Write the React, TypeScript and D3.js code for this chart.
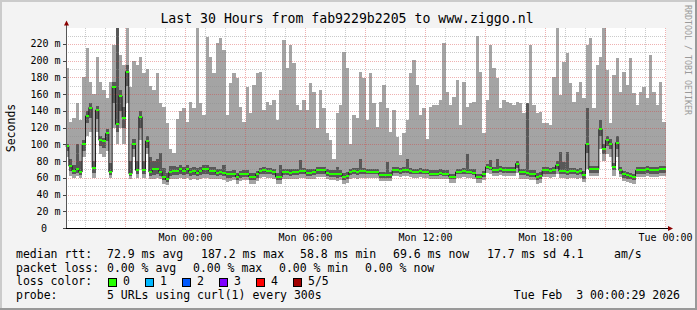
import React from 'react';
import * as d3 from 'd3';

// ---- data (10-minute steps, last 30 hours, values in ms) ----
const maxPing = [191,127,131,150,129,180,215,175,160,205,175,165,155,175,219,239,207,195,239,168,200,195,205,185,190,170,165,185,150,145,125,95,90,130,140,143,127,151,143,239,150,135,228,205,185,
221,227,213,135,173,185,179,145,127,169,137,171,185,187,141,151,147,153,129,165,225,191,219,197,147,141,153,141,173,163,119,165,143,113,105,83,137,147,211,191,101,135,131,187,179,
129,185,149,121,151,171,143,115,141,109,87,113,129,185,201,171,135,143,107,145,147,147,153,221,163,147,157,177,123,175,145,149,151,229,187,113,153,219,191,179,143,153,151,149,147,
151,149,137,149,219,147,137,139,125,125,123,181,239,159,199,209,173,151,163,175,155,219,227,143,195,205,239,189,125,183,203,163,187,171,203,161,147,163,169,155,207,163,147,175,127];
const upperPing = [101,83,75,101,80,105,140,150,80,146,110,108,118,78,175,239,165,145,195,80,106,80,140,80,110,85,80,82,90,72,66,74,74,73,75,73,75,72,73,72,73,75,75,73,73,
70,71,75,68,68,69,66,68,69,69,66,66,68,72,73,72,72,71,66,75,71,71,70,71,71,81,72,70,70,71,73,73,73,70,69,69,73,69,66,67,71,72,72,83,72,
71,71,71,71,67,67,79,67,73,73,72,73,83,72,71,71,72,71,71,69,69,69,70,69,69,65,65,71,71,72,89,71,70,65,65,68,77,81,73,83,74,73,73,73,73,
80,71,71,149,69,69,66,67,73,73,72,73,80,91,79,91,72,72,71,72,68,143,74,74,74,129,100,110,106,78,110,73,68,67,66,65,73,73,73,74,73,73,73,74,74];
const medianRtt = [98,74,68,70,67,100,134,144,72,141,105,104,113,67,169,124,158,132,187,65,101,69,133,69,104,67,70,70,67,61,58,67,68,68,70,68,70,67,68,66,68,70,70,68,68,
66,67,66,64,64,65,61,64,65,65,61,61,64,68,69,68,68,67,61,61,67,67,66,67,67,68,68,66,66,67,69,69,69,66,65,65,64,65,61,62,67,68,67,68,68,
67,67,67,67,63,63,63,63,69,69,68,69,69,68,67,67,68,67,67,65,65,65,66,65,65,61,61,67,67,68,67,67,66,61,61,64,73,72,69,69,70,69,69,69,69,
77,67,67,66,65,65,61,62,69,69,68,69,75,68,68,67,68,68,67,68,63,100,70,70,70,118,95,105,101,73,102,69,64,63,62,61,69,69,69,70,69,69,69,70,70];
const lowerPing = [92,68,64,66,63,92,125,132,66,130,98,96,104,63,150,115,140,120,170,62,94,64,120,64,96,62,63,64,62,57,55,62,63,63,64,63,64,62,63,62,63,64,64,63,63,
62,63,62,60,60,61,57,60,61,61,57,57,60,64,65,64,64,63,57,57,63,63,62,63,63,64,64,62,62,63,65,65,65,62,61,61,60,61,57,58,63,64,63,64,64,
64,64,64,64,60,60,60,60,66,66,65,66,66,65,64,64,65,64,64,62,62,62,63,62,62,58,58,64,64,65,64,64,63,58,58,61,70,69,66,66,67,66,66,66,66,
72,63,63,62,61,61,57,58,65,65,64,65,70,64,64,63,64,64,63,64,59,90,66,66,66,110,88,98,94,69,95,65,60,59,58,57,65,65,65,66,65,65,65,66,66];
const minPing = [85,62,60,62,60,85,110,115,60,115,88,85,92,60,120,100,120,100,150,58,85,60,105,60,88,58,58,60,58,53,52,58,58,58,60,58,60,57,58,57,58,60,60,58,58,
58,59,57,55,56,57,53,56,57,57,53,53,56,60,61,60,60,59,53,53,59,59,58,59,59,60,60,58,58,59,61,61,61,58,57,57,56,57,53,54,59,60,59,60,60,
60,60,60,60,56,56,56,56,62,62,61,62,62,61,60,60,61,60,60,58,58,58,59,58,58,54,54,60,60,61,60,60,59,54,54,57,66,65,62,62,63,62,62,62,62,
66,58,58,58,57,57,53,54,61,61,60,61,64,60,60,59,60,60,59,60,55,70,62,62,62,95,80,88,85,62,85,61,56,55,54,53,61,61,61,62,61,61,61,62,62];

const yTickValues = [0,20,40,60,80,100,120,140,160,180,200,220];
const xTickHours = [-24,-18,-12,-6,0];
const xTickLabels = ['Mon 00:00','Mon 06:00','Mon 12:00','Mon 18:00','Tue 00:00'];
const lossLabels = ['0','1','2','3','4','5/5'];
const lossColors = ['#26ff00','#00b8ff','#0059ff','#7e00ff','#ff0000','#a10000'];
const rttStats = ['72.9 ms avg','187.2 ms max','58.8 ms min','69.6 ms now','17.7 ms sd','4.1','am/s'];
const lossStats = ['0.00 % avg','0.00 % max','0.00 % min','0.00 % now'];

const W = 697, H = 310;
const STEP = 10; // minutes
const TOTAL = 30 * 60;

export default function App() {
  const x = d3.scaleLinear().domain([-TOTAL, 0]).range([65.5, 665.5]);
  const y = d3.scaleLinear().domain([0, 239.13]).range([228, 28]);

  const rows = medianRtt.map((m, i) => ({
    t: -TOTAL + i * STEP, p1: minPing[i], p2: lowerPing[i], m, p4: upperPing[i], p5: maxPing[i],
  }));
  const last = rows[rows.length - 1];
  const pts = [...rows, { ...last, t: 0 }];

  const area = (lo: (d: any) => number, hi: (d: any) => number) =>
    d3.area<any>().x(d => x(d.t)).y0(d => y(lo(d))).y1(d => y(hi(d))).curve(d3.curveStepAfter)(pts) || '';
  const lightSmoke = area(d => d.p1, d => d.p5);
  const darkSmoke = area(d => d.p2, d => d.p4);
  const sw = 1.2;
  const greenBand = area(d => d.m - sw, d => d.m + sw);
  const medLine = d3.line<any>().x(d => x(d.t)).y(d => y(d.m)).curve(d3.curveStepAfter)(pts) || '';

  const mono = 'DejaVu Sans Mono, monospace';
  const minorH = d3.range(10, 240, 10).filter(v => v % 20 !== 0);
  const majorH = d3.range(20, 240, 20);
  const hours = d3.range(-29, 1);

  const legendX = 107;
  const statX = [107, 201, 300, 393, 487, 563, 614];
  const lossX = [107, 193, 279, 365];
  const boxX = [108, 145, 182, 219, 256, 293];

  return (
    <svg width={W} height={H} style={{ position: 'absolute', left: 0, top: 0 }} fontFamily={mono}>
      <rect x={0} y={0} width={W} height={H} fill="#f3f3f3" />
      <rect x={0} y={0} width={W} height={2} fill="#cbcbcb" />
      <rect x={0} y={0} width={2} height={H} fill="#cbcbcb" />
      <rect x={W - 2} y={0} width={2} height={H} fill="#999999" />
      <rect x={0} y={H - 2} width={W} height={2} fill="#999999" />
      <rect x={66} y={28} width={600} height={200} fill="#ffffff" />

      <path d={lightSmoke} fill="#a4a4a4" shapeRendering="crispEdges" />
      <path d={darkSmoke} fill="#585858" shapeRendering="crispEdges" />

      {/* grid */}
      {minorH.map(v => (
        <line key={'mh' + v} x1={66} x2={666} y1={Math.round(y(v)) + 0.5} y2={Math.round(y(v)) + 0.5}
          stroke="rgba(140,140,140,0.45)" strokeDasharray="1,1" />
      ))}
      {hours.filter(h => h % 3 !== 0).map(h => (
        <line key={'mv' + h} x1={x(h * 60)} x2={x(h * 60)} y1={28} y2={228}
          stroke="rgba(140,140,140,0.45)" strokeDasharray="1,1" />
      ))}
      {majorH.map(v => (
        <line key={'Mh' + v} x1={66} x2={666} y1={Math.round(y(v)) + 0.5} y2={Math.round(y(v)) + 0.5}
          stroke="rgba(215,60,60,0.4)" strokeDasharray="1,1" />
      ))}
      {hours.filter(h => h % 3 === 0 && h > -30).map(h => (
        <line key={'Mv' + h} x1={x(h * 60)} x2={x(h * 60)} y1={28} y2={228}
          stroke="rgba(215,60,60,0.4)" strokeDasharray="1,1" />
      ))}

      <path d={medLine} fill="none" stroke="#202020" strokeWidth={1} />
      <path d={greenBand} fill="#26ff00" shapeRendering="crispEdges" />

      {/* axes */}
      <line x1={66.5} x2={66.5} y1={24} y2={229} stroke="#555" />
      <line x1={63} x2={669} y1={228.5} y2={228.5} stroke="#000" />
      <path d="M64,25.5 L66.5,20.5 L69,25.5 Z" fill="#8b0000" />
      <path d="M668,226 L673,228.5 L668,231 Z" fill="#8b0000" />
      {yTickValues.map(v => (
        <line key={'yt' + v} x1={63} x2={66} y1={Math.round(y(v)) + 0.5} y2={Math.round(y(v)) + 0.5} stroke="#444" />
      ))}

      {yTickValues.map(v => (
        <text key={'yl' + v} x={v === 0 ? 47 : 60.5} y={y(v) + 3.5} fontSize={10} textAnchor="end" fill="#000">
          {v === 0 ? '0' : `${v} m`}
        </text>
      ))}
      {xTickHours.map((h, i) => (
        <text key={'xl' + h} x={x(h * 60)} y={240.5} fontSize={10} textAnchor="middle" fill="#000">{xTickLabels[i]}</text>
      ))}

      <text x={347} y={23} fontSize={13.2} textAnchor="middle" fill="#000">Last 30 Hours from fab9229b2205 to www.ziggo.nl</text>
      <text transform="translate(14.5,128) rotate(-90)" fontSize={11.5} textAnchor="middle" fill="#000">Seconds</text>
      <text transform="translate(685,60) rotate(90)" fontSize={8.3} textAnchor="middle" fill="#9a9a9a">RRDTOOL / TOBI OETIKER</text>

      {/* legend */}
      <g fontSize={11.5} fill="#000">
        <text x={16} y={258}>median rtt:</text>
        {rttStats.map((s, i) => <text key={'rs' + i} x={statX[i]} y={258}>{s}</text>)}
        <text x={16} y={271.5}>packet loss:</text>
        {lossStats.map((s, i) => <text key={'ls' + i} x={lossX[i]} y={271.5}>{s}</text>)}
        <text x={16} y={285}>loss color:</text>
        {lossLabels.map((l, i) => (
          <g key={'lc' + i}>
            <rect x={boxX[i] + 0.5} y={278.5} width={8} height={8} fill={lossColors[i]} stroke="#000" />
            <text x={boxX[i] + 15} y={285}>{l}</text>
          </g>
        ))}
        <text x={16} y={298.5}>probe:</text>
        <text x={legendX} y={298.5}>5 URLs using curl(1) every 300s</text>
        <text x={680} y={298.5} textAnchor="end" style={{ whiteSpace: 'pre' }}>Tue Feb  3 00:00:29 2026</text>
      </g>
    </svg>
  );
}
